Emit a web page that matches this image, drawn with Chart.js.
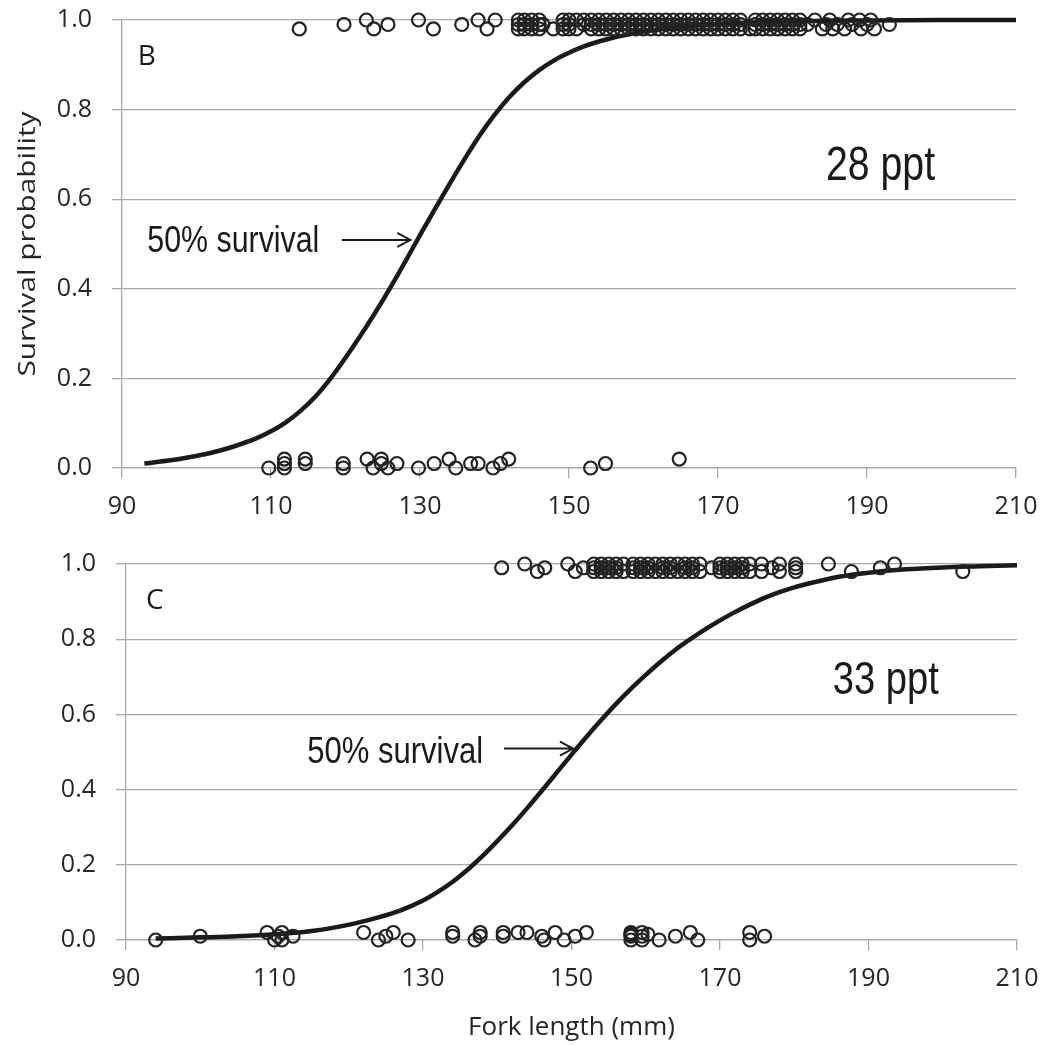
<!DOCTYPE html>
<html>
<head>
<meta charset="utf-8">
<script src="https://cdn.jsdelivr.net/npm/chart.js@4.4.0/dist/chart.umd.min.js"></script>
<style>
  body { margin: 0; background: #fff; }
  #wrap { position: relative; width: 1044px; height: 1045px; }
  #chartB { position: absolute; left: 0; top: 0; }
  #chartC { position: absolute; left: 0; top: 520px; }
</style>
</head>
<body>
<div id="wrap">
  <canvas id="chartB" width="1044" height="520"></canvas>
  <canvas id="chartC" width="1044" height="525"></canvas>
</div>
<script>
// x axis ticks (fork length, mm) and y ticks (survival probability)
const xTicks = [90, 110, 130, 150, 170, 190, 210];
const yTicks = [0, 0.2, 0.4, 0.6, 0.8, 1.0];

// panel B, 28 ppt : fitted curve [length, probability]
const curveB = [[93,0.010],[96,0.016],[99,0.024],[102,0.034],[105,0.048],[108,0.066],[110,0.082],
  [112,0.102],[114,0.128],[116,0.160],[118,0.200],[120,0.246],[122,0.295],[124,0.347],[126,0.402],
  [128,0.460],[130,0.520],[132,0.578],[134,0.635],[136,0.690],[138,0.742],[140,0.788],[142,0.828],
  [144,0.861],[146,0.888],[148,0.910],[150,0.927],[152,0.941],[154,0.952],[156,0.961],[158,0.968],
  [160,0.974],[165,0.985],[170,0.991],[180,0.997],[190,0.999],[200,1.0],[210,1.0]];

// panel B survivors (jittered near 1)
const aliveB = [[113.8,0.98],[119.8,0.99],[122.8,1],[123.8,0.98],[125.7,0.99],[129.8,1],[131.8,0.98],
  [135.6,0.99],[137.8,1],[139,0.98],[140.1,1],
  [143.2,0.98],[143.2,0.99],[143.2,1],[144,0.98],[144,0.99],[144,1],[145,0.98],[145,0.99],[145,1],
  [146,0.98],[146,0.99],[146,1],[146.5,0.99],[147.9,0.98],
  [149.2,0.98],[149.2,0.99],[149.2,1],[150,0.98],[150,0.99],[150,1],[151,0.98],[151,1],[152,0.99],[152,1],
  [153,0.98],[153,0.99],[153,1],[154,0.98],[154,0.99],[154,1],[155,0.98],[155,0.99],[155,1],
  [156,0.98],[156,0.99],[156,1],[157,0.98],[157,0.99],[157,1],[158,0.98],[158,0.99],[158,1],
  [159,0.98],[159,0.99],[159,1],[160,0.98],[160,0.99],[160,1],[161,0.98],[161,0.99],[161,1],
  [162,0.98],[162,0.99],[162,1],[163,0.98],[163,0.99],[163,1],[164,0.98],[164,0.99],[164,1],
  [165,0.98],[165,0.99],[165,1],[166,0.98],[166,0.99],[166,1],[167,0.98],[167,0.99],[167,1],
  [168,0.98],[168,0.99],[168,1],[169,0.98],[169,0.99],[169,1],[170,0.98],[170,0.99],[170,1],
  [171,0.98],[171,0.99],[171,1],[172,0.98],[172,0.99],[172,1],[173,0.98],[173,0.99],[173,1],
  [174.3,0.98],[175,0.98],[175,0.99],[175,1],[176,0.98],[176,0.99],[176,1],[177,0.98],[177,0.99],[177,1],
  [178,0.98],[178,0.99],[178,1],[179,0.98],[179,0.99],[179,1],[180,0.98],[180,0.99],[180,1],
  [181,0.98],[181,0.99],[181,1],[182,0.99],[183,1],[184,0.98],[184.5,0.99],[185,1],[185.4,0.98],
  [186,0.99],[187,0.98],[187.5,1],[188,0.99],[189,1],[189.2,0.98],[190,0.99],[190.5,1],[191,0.98],[193,0.99]];

// panel B mortalities (jittered near 0)
const deadB = [[109.7,0],[111.8,0],[111.8,0.01],[111.8,0.02],[114.6,0.01],[114.6,0.02],[119.7,0],[119.7,0.01],
  [122.9,0.02],[123.7,0],[124.8,0.02],[124.8,0.01],[125.7,0],[126.9,0.01],[129.8,0],[131.9,0.01],
  [133.9,0.02],[134.8,0],[136.8,0.01],[137.8,0.01],[139.8,0],[140.8,0.01],[141.9,0.02],
  [152.9,0],[154.9,0.01],[164.8,0.02]];

// panel C, 33 ppt : fitted curve
const curveC = [[94,0.004],[100,0.007],[105,0.010],[110,0.015],[115,0.024],[118,0.033],[121,0.045],
  [124,0.060],[127,0.079],[130,0.105],[132,0.128],[134,0.155],[136,0.187],[138,0.223],[140,0.263],
  [142,0.305],[144,0.350],[146,0.397],[148,0.445],[150,0.493],[152,0.540],[154,0.585],[156,0.628],
  [158,0.668],[160,0.705],[162,0.740],[164,0.772],[166,0.800],[168,0.826],[170,0.850],[172,0.872],
  [174,0.892],[176,0.910],[178,0.925],[180,0.938],[183,0.953],[186,0.966],[190,0.977],[195,0.986],
  [200,0.991],[205,0.994],[210,0.997]];

const aliveC = [[140.6,0.99],[143.7,1],[145.4,0.98],[146.4,0.99],[149.5,1],[150.5,0.98],[151.6,0.99],
  [153,0.98],[153,0.99],[153,1],[154,0.98],[154,0.99],[154,1],[155,0.98],[155,0.99],[155,1],
  [156,0.98],[156,0.99],[156,1],[157,0.98],[157,1],
  [158.3,0.98],[158.3,0.99],[158.3,1],[159.3,0.98],[159.3,0.99],[159.3,1],[160.3,0.98],[160.3,0.99],[160.3,1],
  [161.3,0.98],[161.3,1],[162.3,0.98],[162.3,0.99],[162.3,1],[163.3,0.98],[163.3,0.99],[163.3,1],
  [164.3,0.98],[164.3,1],[165.3,0.98],[165.3,0.99],[165.3,1],[166.3,0.98],[166.3,0.99],[166.3,1],
  [167.3,0.98],[167.3,1],[168.9,0.99],
  [170,0.98],[170,0.99],[170,1],[171,0.98],[171,0.99],[171,1],[172,0.98],[172,0.99],[172,1],
  [173,0.98],[173,0.99],[173,1],[174,0.98],[174,1],
  [175.6,1],[175.6,0.98],[177,0.99],[178,1],[178,0.98],[180.2,1],[180.2,0.99],[180.2,0.98],
  [184.6,1],[187.7,0.98],[191.6,0.99],[193.5,1],[202.7,0.98]];

const deadC = [[94,0],[100,0.01],[109,0.02],[110,0],[110.5,0.01],[111,0.02],[111,0],[112.5,0.01],
  [122,0.02],[124,0],[125,0.01],[126,0.02],[128,0],[134,0.02],[134,0.01],[137,0],[137.7,0.02],
  [137.7,0.01],[140.8,0.02],[140.8,0.01],[142.8,0.02],[144,0.02],[146,0.01],[146.3,0],[147.8,0.02],
  [149,0],[150.5,0.01],[152,0.02],[158,0.02],[158,0.015],[158,0.01],[158,0],[159.5,0.02],
  [159.5,0.01],[159.5,0],[160.3,0.015],[161.8,0],[164,0.01],[166,0.02],[167,0],[174,0.02],
  [174,0],[176,0.01]];

const toXY = arr => arr.map(p => ({ x: p[0], y: p[1] }));

// text notes & arrows drawn in data coordinates, plus a width-fitted y title
const notesPlugin = {
  id: 'notes',
  afterDatasetsDraw(chart, args, opts) {
    const ctx = chart.ctx;
    const xs = chart.scales.x, ys = chart.scales.y;
    ctx.save();
    ctx.fillStyle = '#1a1a1a';
    ctx.strokeStyle = '#1a1a1a';
    (opts.items || []).forEach(n => {
      const px = xs.getPixelForValue(n.x), py = ys.getPixelForValue(n.y);
      if (n.arrowTo !== undefined) {
        const px2 = xs.getPixelForValue(n.arrowTo);
        ctx.lineWidth = 2;
        ctx.beginPath();
        ctx.moveTo(px, py); ctx.lineTo(px2, py);
        ctx.moveTo(px2 - 13, py - 7); ctx.lineTo(px2, py); ctx.lineTo(px2 - 13, py + 7);
        ctx.stroke();
        return;
      }
      ctx.font = n.font;
      ctx.textAlign = 'left';
      ctx.textBaseline = 'alphabetic';
      const w = ctx.measureText(n.text).width;
      const sx = n.width ? n.width / w : 1;
      ctx.save();
      ctx.translate(px, py);
      ctx.scale(sx, 1);
      ctx.fillText(n.text, 0, 0);
      ctx.restore();
    });
    const t = opts.yTitle;
    if (t) {
      const ca = chart.chartArea;
      ctx.font = t.font;
      ctx.fillStyle = '#262626';
      ctx.textAlign = 'center';
      ctx.textBaseline = 'middle';
      const w = ctx.measureText(t.text).width;
      ctx.translate(t.offset, (ca.top + ca.bottom) / 2);
      ctx.rotate(-Math.PI / 2);
      ctx.scale(t.width / w, 1);
      ctx.fillText(t.text, 0, 0);
    }
    ctx.restore();
  }
};

const tickFont = { family: '"Open Sans", sans-serif', size: 25 };
const gridColor = '#a8a8a8';

function makeChart(id, curve, alive, dead, cfg) {
  return new Chart(document.getElementById(id), {
    type: 'scatter',
    data: {
      datasets: [
        { type: 'line', data: toXY(curve), borderColor: '#1a1a1a', borderWidth: 4.5, pointRadius: 0,
          cubicInterpolationMode: 'monotone', fill: false, clip: false, order: 2 },
        { data: toXY(alive), pointRadius: 6.5, pointBorderWidth: 2.2, borderColor: '#222',
          backgroundColor: 'rgba(0,0,0,0)', clip: false, order: 1 },
        { data: toXY(dead), pointRadius: 6.5, pointBorderWidth: 2.2, borderColor: '#222',
          backgroundColor: 'rgba(0,0,0,0)', clip: false, order: 1 }
      ]
    },
    options: {
      responsive: false,
      animation: false,
      devicePixelRatio: 1,
      layout: { padding: cfg.padding },
      plugins: { legend: { display: false }, tooltip: { enabled: false },
        notes: { items: cfg.notes, yTitle: cfg.yTitle } },
      scales: {
        x: {
          type: 'linear', min: 90, max: 210,
          afterBuildTicks: s => { s.ticks = xTicks.map(v => ({ value: v })); },
          afterFit: s => { s.height = cfg.xHeight; s.paddingLeft = 0; s.paddingRight = 0; },
          ticks: { font: tickFont, color: '#262626', padding: 14, maxRotation: 0 },
          grid: { drawOnChartArea: false, drawTicks: true, tickLength: 10, color: gridColor, lineWidth: 1.3 },
          border: { color: gridColor, width: 1.3 },
          title: { display: !!cfg.xTitle, text: cfg.xTitle || '', color: '#262626',
            font: { family: '"Open Sans", sans-serif', size: 26 }, padding: { top: 0, bottom: 2 } }
        },
        y: {
          type: 'linear', min: 0, max: 1,
          afterBuildTicks: s => { s.ticks = yTicks.map(v => ({ value: v })); },
          afterFit: s => { s.width = cfg.yWidth; s.paddingTop = 0; s.paddingBottom = 0; },
          ticks: { font: tickFont, color: '#262626', padding: 20, callback: v => v.toFixed(1) },
          grid: { color: gridColor, lineWidth: 1.3, tickLength: 10 },
          border: { color: gridColor, width: 1.3 }
        }
      }
    },
    plugins: [notesPlugin]
  });
}

const narrow = '"Liberation Sans Narrow", "Liberation Sans", Arial, sans-serif';

makeChart('chartB', curveB, aliveB, deadB, {
  padding: { top: 20, right: 28, left: 0, bottom: 0 },
  xHeight: 52, yWidth: 122,
  yTitle: { text: 'Survival probability', font: '24px "Open Sans", sans-serif', width: 265, offset: 28 },
  notes: [
    { text: 'B', x: 92.1, y: 0.90, font: '28px "Open Sans", sans-serif' },
    { text: '50% survival', x: 93.4, y: 0.482, font: '37px ' + narrow, width: 172 },
    { x: 119.5, arrowTo: 128.7, y: 0.509 },
    { text: '28 ppt', x: 184.5, y: 0.643, font: '49px ' + narrow, width: 109 }
  ]
});

makeChart('chartC', curveC, aliveC, deadC, {
  padding: { top: 44, right: 27, left: 0, bottom: 0 },
  xHeight: 105, yWidth: 126,
  xTitle: 'Fork length (mm)',
  notes: [
    { text: 'C', x: 92.7, y: 0.88, font: '28px "Open Sans", sans-serif' },
    { text: '50% survival', x: 114.4, y: 0.472, font: '37px ' + narrow, width: 176 },
    { x: 140.9, arrowTo: 150.2, y: 0.509 },
    { text: '33 ppt', x: 185.2, y: 0.655, font: '46px ' + narrow, width: 106 }
  ]
});
</script>
</body>
</html>
